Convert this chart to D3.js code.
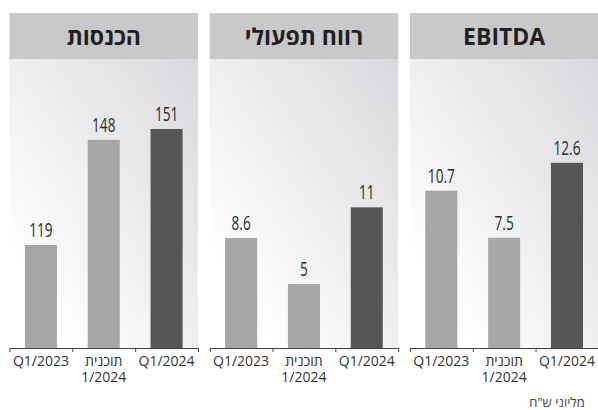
<!DOCTYPE html>
<html lang="he">
<head>
  <meta charset="UTF-8">
  <title>תוצאות רבעון ראשון</title>
  <style>
    body{ margin: 0; background: #fff; }
    text{ font-family: "Open Sans", "DejaVu Sans", sans-serif; fill: #231f20; }
    .title{ font-weight: 700; font-size: 23px; }
    .val{ font-size: 20px; fill: #2b2b2b; }
    .cat{ font-size: 14px; fill: #333; }
    .axis path, .axis line{ stroke: #444; stroke-width: 1px; }
    .note{ font-size: 13px; fill: #444; }
  </style>
</head>
<body>
  <script src="https://cdn.jsdelivr.net/npm/d3@7"></script>
  <script>
    // data, left to right as in the picture
    const titles = ['הכנסות', 'רווח תפעולי', 'EBITDA'];
    const categories = ['Q1/2023', 'תוכנית\n1/2024', 'Q1/2024'];
    const revenue = [119, 148, 151];
    const operatingProfit = [8.6, 5, 11];
    const ebitda = [10.7, 7.5, 12.6];
    const seriesList = [revenue, operatingProfit, ebitda];
    // the source chart does not start every panel at zero
    const yDomains = [[90.6, 170.3], [0, 22.6], [0, 19.66]];
    const unitNote = 'מליוני ש"ח';

    const width = 598, height = 410;
    const panelW = 188.5, panelStep = 200.2, panelX0 = 9.5;
    const headTop = 13, headBottom = 59, baseY = 348;
    const barColors = ['#a5a6a8', '#a5a6a8', '#555658'];

    const svg = d3.select('body').append('svg')
      .attr('width', width).attr('height', height);

    const grad = svg.append('defs').append('linearGradient')
      .attr('id', 'bg').attr('x1', 0).attr('y1', 1).attr('x2', 1).attr('y2', 0);
    grad.append('stop').attr('offset', '0.15').attr('stop-color', '#ffffff');
    grad.append('stop').attr('offset', '1').attr('stop-color', '#d8d9dc');

    const x = d3.scaleBand().domain(d3.range(categories.length))
      .range([0, panelW]).paddingInner(0.49).paddingOuter(0.245);
    const tickX = d3.scaleLinear().domain([0, categories.length]).range([0, panelW]);

    // one text per label line
    const catLines = [];
    categories.forEach(function(c, j){
      c.split('\n').forEach((l, k) => catLines.push({j: j, k: k, text: l}));
    });

    seriesList.forEach(function(values, i){
      const g = svg.append('g')
        .attr('transform', `translate(${panelX0 + i * panelStep},0)`);
      const y = d3.scaleLinear().domain(yDomains[i]).range([baseY, headBottom]);

      g.append('rect')
        .attr('x', 0).attr('y', headBottom)
        .attr('width', panelW).attr('height', baseY - headBottom)
        .attr('fill', 'url(#bg)');
      g.append('rect')
        .attr('x', 0).attr('y', headTop)
        .attr('width', panelW).attr('height', headBottom - headTop)
        .attr('fill', '#c8c9cb');
      g.append('text').attr('class', 'title')
        .attr('x', panelW / 2).attr('y', 45)
        .attr('text-anchor', 'middle')
        .text(titles[i]);

      g.selectAll('rect.bar').data(values).enter().append('rect')
        .attr('class', 'bar')
        .attr('x', (d, j) => x(j))
        .attr('y', d => y(d))
        .attr('width', x.bandwidth())
        .attr('height', d => baseY - y(d))
        .attr('fill', (d, j) => barColors[j]);

      g.selectAll('text.val').data(values).enter().append('text')
        .attr('class', 'val')
        .attr('text-anchor', 'middle')
        .attr('transform', (d, j) => `translate(${x(j) + x.bandwidth() / 2},${y(d) - 8}) scale(0.68,1)`)
        .text(d => d);

      g.append('g').attr('class', 'axis')
        .attr('transform', `translate(0,${baseY})`)
        .call(d3.axisBottom(tickX).tickValues(d3.range(categories.length + 1))
          .tickSize(4).tickSizeOuter(0).tickFormat(''));

      g.selectAll('text.cat').data(catLines).enter().append('text')
        .attr('class', 'cat')
        .attr('text-anchor', 'middle')
        .attr('x', d => x(d.j) + x.bandwidth() / 2)
        .attr('y', d => 366 + d.k * 16)
        .text(d => d.text);
    });

    svg.append('text').attr('class', 'note')
      .attr('x', 557).attr('y', 407)
      .attr('text-anchor', 'middle')
      .text(unitNote);
  </script>
</body>
</html>
